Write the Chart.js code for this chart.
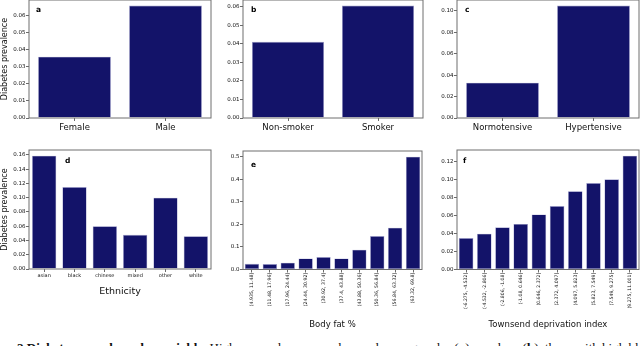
<!DOCTYPE html>
<html>
<head>
<meta charset="utf-8">
<script src="https://cdn.jsdelivr.net/npm/chart.js@4.4.1/dist/chart.umd.min.js"></script>
<style>
  html, body { margin: 0; padding: 0; background: #fff; }
  body { width: 640px; height: 346px; position: relative; overflow: hidden; }
  canvas { position: absolute; }
  #caption { position: absolute; left: 17px; top: 341px; white-space: nowrap;
    font-family: "Liberation Serif", serif; font-size: 13px; line-height: 13px; color: #111; }
</style>
</head>
<body>
<div id="caption"><b>2 Diabetes prevalence by variable.</b> Higher prevalence was observed among males (<b>a</b>), smokers (<b>b</b>), those with high blood pressure (<b>c</b>)</div>
<script>
// ---- data ----
const sexLabels = ["Female", "Male"];
const sexValues = [0.036, 0.066];

const smokeLabels = ["Non-smoker", "Smoker"];
const smokeValues = [0.041, 0.0605];

const bpLabels = ["Normotensive", "Hypertensive"];
const bpValues = [0.033, 0.105];

const ethLabels = ["asian", "black", "chinese", "mixed", "other", "white"];
const ethValues = [0.159, 0.115, 0.060, 0.048, 0.100, 0.046];

const fatLabels = ["(4.935, 11.48]", "(11.48, 17.96]", "(17.96, 24.44]", "(24.44, 30.92]", "(30.92, 37.4]",
                   "(37.4, 43.88]", "(43.88, 50.36]", "(50.36, 56.84]", "(56.84, 63.32]", "(63.32, 69.8]"];
const fatValues = [0.025, 0.024, 0.030, 0.049, 0.055, 0.049, 0.088, 0.148, 0.185, 0.500];

const tdiLabels = ["(-6.275, -4.532]", "(-4.532, -2.806]", "(-2.806, -1.08]", "(-1.08, 0.646]", "(0.646, 2.372]",
                   "(2.372, 4.097]", "(4.097, 5.823]", "(5.823, 7.549]", "(7.549, 9.275]", "(9.275, 11.001]"];
const tdiValues = [0.0349, 0.0398, 0.0469, 0.0507, 0.0612, 0.0705, 0.0871, 0.0961, 0.1002, 0.1265];

const yTitle = "Diabetes prevalence";

// ---- panel layout (plot area boxes, px) ----
const panels = [
  { letter: "a", labels: sexLabels, values: sexValues, step: 0.01, dec: 2,
    plot: [29, 0, 182, 118], yW: 29, xH: 22, yTitle: true, xTitle: null, xFont: 8.5, xPad: 2, rot: 0, lx: 7, ly: 12 },
  { letter: "b", labels: smokeLabels, values: smokeValues, step: 0.01, dec: 2,
    plot: [243, 0, 180, 118], yW: 30, xH: 22, yTitle: false, xTitle: null, xFont: 8.5, xPad: 2, rot: 0, lx: 8, ly: 12 },
  { letter: "c", labels: bpLabels, values: bpValues, step: 0.02, dec: 2,
    plot: [457, 0, 182, 118], yW: 32, xH: 22, yTitle: false, xTitle: null, xFont: 8.5, xPad: 2, rot: 0, lx: 8, ly: 12 },
  { letter: "d", labels: ethLabels, values: ethValues, step: 0.02, dec: 2,
    plot: [29, 150, 182, 119], yW: 29, xH: 28, yTitle: true, xTitle: "Ethnicity", xTitleFont: 9.5, xFont: 5, xPad: 0.5, rot: 0, lx: 36, ly: 13 },
  { letter: "e", labels: fatLabels, values: fatValues, step: 0.1, dec: 1,
    plot: [243, 150.5, 179, 118.5], yW: 30, xH: 60.5, yTitle: false, xTitle: "Body fat %", xTitleFont: 8.5, xFont: 4.7, xPad: 0.3, rot: 90, lx: 8, ly: 15.5 },
  { letter: "f", labels: tdiLabels, values: tdiValues, step: 0.02, dec: 2,
    plot: [457, 150, 182, 119], yW: 32, xH: 60.5, yTitle: false, xTitle: "Townsend deprivation index", xTitleFont: 8.5, xFont: 4.6, xPad: 0.3, rot: 90, lx: 6, ly: 13 }
];

const BAR = "#131369";
const FONT = "DejaVu Sans";

const framePlugin = {
  id: "frame",
  afterDraw(chart, args, opts) {
    const { ctx, chartArea: a } = chart;
    ctx.save();
    ctx.strokeStyle = "#6e6e6e";
    ctx.lineWidth = 1;
    ctx.strokeRect(a.left, a.top, a.right - a.left, a.bottom - a.top);
    ctx.fillStyle = "#000";
    ctx.font = "bold 7.5px '" + FONT + "'";
    ctx.textBaseline = "alphabetic";
    ctx.textAlign = "left";
    ctx.fillText(opts.letter, a.left + opts.lx, a.top + opts.ly);
    ctx.restore();
  }
};

panels.forEach((p) => {
  const [px, py, pw, ph] = p.plot;
  const cv = document.createElement("canvas");
  const left = px - p.yW;
  const top = py - 1;
  const W = p.yW + pw + 1;
  const H = ph + p.xH + 1;
  cv.width = Math.ceil(W);
  cv.height = Math.ceil(H);
  cv.style.left = left + "px";
  cv.style.top = top + "px";
  cv.style.width = Math.ceil(W) + "px";
  cv.style.height = Math.ceil(H) + "px";
  document.body.appendChild(cv);

  const ymax = Math.max(...p.values) * 1.05;

  new Chart(cv, {
    type: "bar",
    data: {
      labels: p.labels,
      datasets: [{
        data: p.values,
        backgroundColor: BAR,
        borderColor: "rgba(150,150,200,0.9)",
        borderWidth: 0.6,
        borderSkipped: false,
        categoryPercentage: 1.0,
        barPercentage: 0.8
      }]
    },
    options: {
      responsive: false,
      animation: false,
      devicePixelRatio: 1,
      layout: { padding: { top: 1, right: Math.ceil(W) - W + 1, left: 0, bottom: 0 } },
      plugins: {
        legend: { display: false },
        tooltip: { enabled: false },
        frame: { letter: p.letter, lx: p.lx, ly: p.ly }
      },
      scales: {
        x: {
          type: "category",
          offset: true,
          border: { display: false },
          grid: { display: true, offset: false, drawOnChartArea: false, drawTicks: true, tickLength: 3, color: "#444", lineWidth: 0.8 },
          ticks: {
            color: "#111",
            font: { family: FONT, size: p.xFont },
            padding: p.xPad,
            autoSkip: false,
            minRotation: p.rot,
            maxRotation: p.rot
          },
          title: p.xTitle ? {
            display: true, text: p.xTitle, color: "#111",
            font: { family: FONT, size: p.xTitleFont }, padding: { top: 0, bottom: 0 }
          } : { display: false },
          afterFit(s) { s.height = p.xH; s.paddingLeft = 0; s.paddingRight = 0; }
        },
        y: {
          type: "linear",
          min: 0,
          max: ymax,
          border: { display: false },
          grid: { display: true, drawOnChartArea: false, drawTicks: true, tickLength: 3, color: "#444", lineWidth: 0.8 },
          ticks: {
            stepSize: p.step,
            includeBounds: false,
            color: "#111",
            padding: 0.5,
            font: { family: FONT, size: 5.5 },
            callback: (v) => Number(v).toFixed(p.dec)
          },
          title: p.yTitle ? {
            display: true, text: yTitle, color: "#111",
            font: { family: FONT, size: 8 }, padding: { top: 0, bottom: 0 }
          } : { display: false },
          afterFit(s) { s.width = p.yW; s.paddingTop = 0; s.paddingBottom = 0; }
        }
      }
    },
    plugins: [framePlugin]
  });
});
</script>
</body>
</html>
